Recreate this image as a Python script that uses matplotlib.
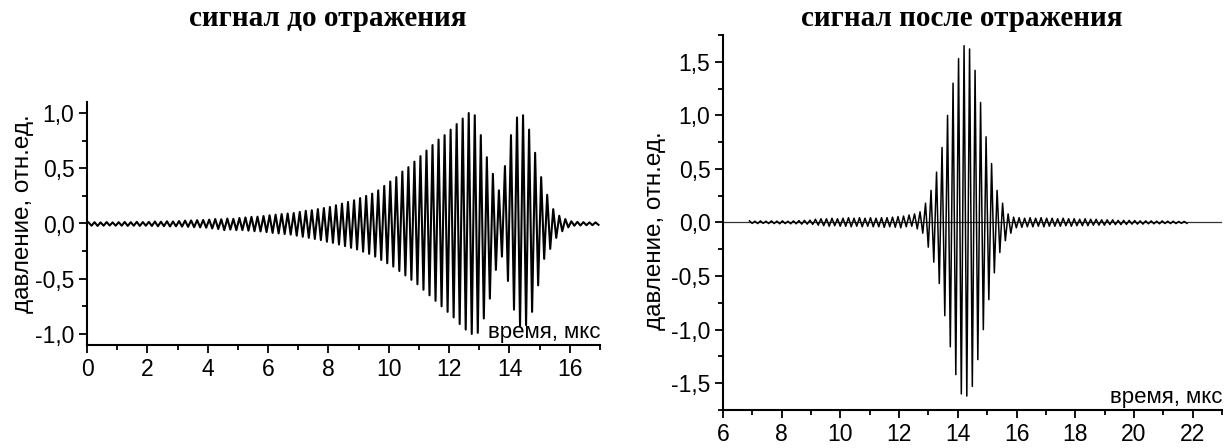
import matplotlib
matplotlib.use("Agg")
import matplotlib.pyplot as plt
from matplotlib.ticker import MultipleLocator, FuncFormatter

# signal before reflection: peak values of every carrier cycle
before_t0 = 0.05
before_period = 0.2
before_hi = [0.010, 0.012, 0.010, 0.013, 0.010,
             0.012, 0.014, 0.012, 0.015, 0.013,
             0.015, 0.018, 0.016, 0.020, 0.018,
             0.022, 0.026, 0.028, 0.030, 0.032,
             0.035, 0.040, 0.038, 0.045, 0.042,
             0.050, 0.055, 0.060, 0.062, 0.068,
             0.075, 0.080, 0.085, 0.090, 0.095,
             0.105, 0.115, 0.120, 0.130, 0.140,
             0.150, 0.165, 0.180, 0.195, 0.210,
             0.230, 0.250, 0.270, 0.300, 0.340,
             0.380, 0.420, 0.470, 0.510, 0.560,
             0.610, 0.660, 0.710, 0.760, 0.800,
             0.850, 0.900, 0.950, 1.000, 0.980,
             0.800, 0.600, 0.450, 0.300, 0.520,
             0.800, 0.960, 0.980, 0.850, 0.640,
             0.420, 0.260, 0.130, 0.070, 0.040,
             0.020, 0.015, 0.012, 0.010, 0.010]
before_lo = [-0.020, -0.022, -0.020, -0.018, -0.020,
             -0.020, -0.022, -0.020, -0.022, -0.020,
             -0.022, -0.025, -0.024, -0.027, -0.025,
             -0.028, -0.030, -0.033, -0.035, -0.038,
             -0.045, -0.050, -0.060, -0.055, -0.060,
             -0.060, -0.065, -0.070, -0.072, -0.078,
             -0.085, -0.090, -0.095, -0.100, -0.110,
             -0.120, -0.130, -0.140, -0.150, -0.165,
             -0.175, -0.190, -0.205, -0.220, -0.235,
             -0.255, -0.275, -0.300, -0.330, -0.360,
             -0.390, -0.430, -0.470, -0.510, -0.550,
             -0.600, -0.650, -0.700, -0.750, -0.800,
             -0.850, -0.910, -0.960, -1.000, -0.990,
             -0.860, -0.680, -0.420, -0.300, -0.520,
             -0.780, -0.930, -0.920, -0.800, -0.560,
             -0.320, -0.230, -0.130, -0.070, -0.035,
             -0.020, -0.018, -0.015, -0.015, -0.012]

# signal after reflection
after_t0 = 6.9
after_period = 0.1875
after_hi = [0.015, 0.012, 0.015, 0.012, 0.015, 0.013, 0.015, 0.012, 0.015, 0.018, 0.020, 0.022,
            0.030, 0.035, 0.035, 0.040, 0.035, 0.040, 0.045, 0.040, 0.045, 0.040, 0.045, 0.040,
            0.045, 0.045, 0.050, 0.055,
            0.060, 0.070, 0.080, 0.100, 0.180, 0.300, 0.470, 0.700, 1.000, 1.300, 1.530,
            1.650, 1.620, 1.420, 1.120, 0.800, 0.550, 0.300, 0.180, 0.080, 0.050,
            0.045, 0.040, 0.045, 0.040, 0.045, 0.040, 0.040, 0.035, 0.040, 0.035, 0.035, 0.030,
            0.035, 0.030, 0.030, 0.025, 0.025, 0.025, 0.020, 0.020, 0.020, 0.018, 0.015, 0.015,
            0.015, 0.012, 0.015, 0.012, 0.012, 0.010, 0.010]
after_lo = [-0.008, -0.010, -0.008, -0.010, -0.010, -0.012, -0.010, -0.012, -0.012, -0.015, -0.015, -0.018,
            -0.025, -0.030, -0.035, -0.030, -0.035, -0.035, -0.040, -0.035, -0.040, -0.035, -0.040, -0.040,
            -0.045, -0.040, -0.045, -0.050,
            -0.040, -0.035, -0.060, -0.100, -0.230, -0.370, -0.570, -0.870, -1.160, -1.420, -1.600,
            -1.620, -1.530, -1.280, -1.000, -0.720, -0.470, -0.280, -0.170, -0.100, -0.050,
            -0.045, -0.040, -0.040, -0.035, -0.040, -0.035, -0.035, -0.035, -0.030, -0.035, -0.030, -0.030,
            -0.030, -0.025, -0.025, -0.025, -0.020, -0.020, -0.020, -0.018, -0.015, -0.015, -0.015, -0.012,
            -0.012, -0.012, -0.010, -0.010, -0.010, -0.008, -0.008]

titles = ["сигнал до отражения", "сигнал после отражения"]
ylabel = "давление, отн.ед."
xlabel = "время, мкс"


def zigzag(t0, period, hi, lo):
    t = []
    y = []
    for k in range(len(hi)):
        t += [t0 + k * period, t0 + (k + 0.5) * period]
        y += [hi[k], lo[k]]
    return t, y


def comma(v, pos):
    return ("%.1f" % v).replace(".", ",")


def style(ax, xmajor, ymajor):
    for s in ["top", "right"]:
        ax.spines[s].set_visible(False)
    for s in ["left", "bottom"]:
        ax.spines[s].set_linewidth(1.5)
    ax.xaxis.set_major_locator(MultipleLocator(xmajor))
    ax.xaxis.set_minor_locator(MultipleLocator(xmajor / 2))
    ax.yaxis.set_major_locator(MultipleLocator(ymajor))
    ax.yaxis.set_minor_locator(MultipleLocator(ymajor / 2))
    ax.yaxis.set_major_formatter(FuncFormatter(comma))
    ax.tick_params(which="major", direction="out", length=6, width=1.3, labelsize=16.5, pad=3)
    ax.tick_params(which="minor", direction="out", length=3.5, width=1.3)


plt.rcParams["font.family"] = "Liberation Sans"
fig = plt.figure(figsize=(12.31, 4.48), dpi=100)

ax1 = fig.add_axes([87 / 1231, 1 - 345 / 448, 513 / 1231, 243 / 448])
t, y = zigzag(before_t0, before_period, before_hi, before_lo)
ax1.plot(t, y, color="black", lw=1.5)
ax1.set_xlim(0, 17)
ax1.set_ylim(-1.1, 1.1)
style(ax1, 2, 0.5)
ax1.text(1.0, 0.03, xlabel, transform=ax1.transAxes, ha="right", va="baseline", fontsize=16)

ax2 = fig.add_axes([723 / 1231, 1 - 410 / 448, 499 / 1231, 375 / 448])
ax2.axhline(0, color="#333333", lw=0.9)
t, y = zigzag(after_t0, after_period, after_hi, after_lo)
ax2.plot(t, y, color="black", lw=1.1)
ax2.set_xlim(6, 23)
ax2.set_ylim(-1.75, 1.75)
style(ax2, 2, 0.5)
ax2.text(1.0, 0.019, xlabel, transform=ax2.transAxes, ha="right", va="baseline", fontsize=16)

fig.text(328 / 1231, 1 - 19 / 448, titles[0], ha="center", va="center",
         family="Liberation Serif", fontweight="bold", fontsize=21)
fig.text(962 / 1231, 1 - 19 / 448, titles[1], ha="center", va="center",
         family="Liberation Serif", fontweight="bold", fontsize=21)
fig.text(23 / 1231, 1 - 214 / 448, ylabel, rotation=90, ha="center", va="center", fontsize=17.5)
fig.text(655 / 1231, 1 - 231 / 448, ylabel, rotation=90, ha="center", va="center", fontsize=17.5)

fig.savefig("out.png", dpi=100)
